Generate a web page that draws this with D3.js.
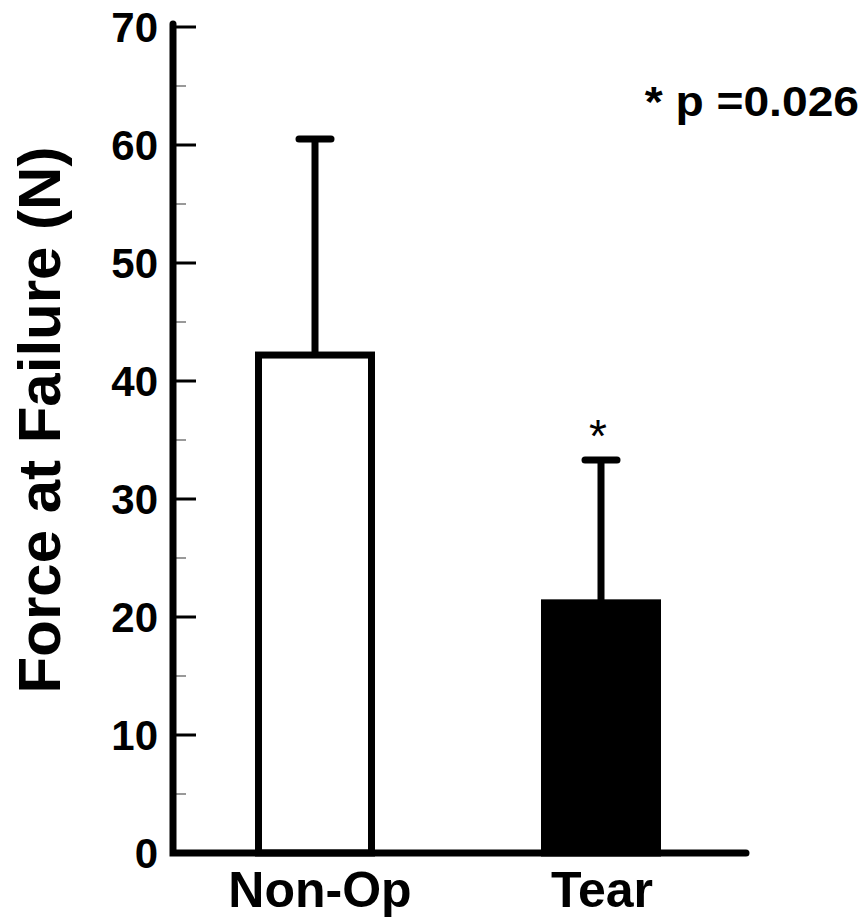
<!DOCTYPE html>
<html><head><meta charset="utf-8">
<script src="https://cdn.jsdelivr.net/npm/d3@7"></script>
<style>body{margin:0;background:#fff}</style>
</head><body>
<svg id="c" width="866" height="918"></svg>
<script>
const categories = ["Non-Op", "Tear"];
const means = [42.2, 21.2];
const sds = [18.3, 12.1];
const fills = ["#ffffff", "#000000"];
const yTicks = [0, 10, 20, 30, 40, 50, 60, 70];
const minorTicks = [5, 15, 25, 35, 45, 55, 65];
const sigMarks = ["", "*"];

const svg = d3.select("#c");
const font = "Liberation Sans, Arial, Helvetica, sans-serif";
const x = d3.scalePoint().domain(categories).range([315, 601]);
const y = d3.scaleLinear().domain([0, 70]).range([853, 27]);
const bw = 113;

svg.selectAll(".minor").data(minorTicks).join("line")
  .attr("x1", 176).attr("x2", 186).attr("y1", d => y(d)).attr("y2", d => y(d))
  .attr("stroke", "#777").attr("stroke-width", 1.5);
svg.selectAll(".major").data(yTicks).join("line")
  .attr("x1", 173).attr("x2", 196).attr("y1", d => y(d)).attr("y2", d => y(d))
  .attr("stroke", "#000").attr("stroke-width", 3);
svg.selectAll(".tl").data(yTicks).join("text")
  .attr("x", 158).attr("y", d => y(d) + 15).attr("text-anchor", "end")
  .attr("font-family", font).attr("font-weight", "bold").attr("font-size", 42)
  .text(d => d);

categories.forEach((c, i) => {
  const xc = x(c);
  svg.append("line").attr("x1", xc).attr("x2", xc).attr("y1", y(means[i])).attr("y2", y(means[i] + sds[i]))
    .attr("stroke", "#000").attr("stroke-width", 7);
  svg.append("line").attr("x1", xc - 16).attr("x2", xc + 16).attr("y1", y(means[i] + sds[i])).attr("y2", y(means[i] + sds[i]))
    .attr("stroke", "#000").attr("stroke-width", 7).attr("stroke-linecap", "round");
  svg.append("rect").attr("x", xc - bw / 2).attr("width", bw)
    .attr("y", y(means[i])).attr("height", y(0) - y(means[i]))
    .attr("fill", fills[i]).attr("stroke", "#000").attr("stroke-width", 7);
  if (sigMarks[i]) {
    svg.append("text").attr("x", xc - 3).attr("y", y(means[i] + sds[i]) - 8).attr("text-anchor", "middle")
      .attr("font-family", font).attr("font-size", 46).text(sigMarks[i]);
  }
  svg.append("text").attr("x", xc + (i === 0 ? 5 : 1)).attr("y", 907).attr("text-anchor", "middle")
    .attr("font-family", font).attr("font-weight", "bold").attr("font-size", 50).text(c);
});

svg.append("path").attr("d", `M173,24 V853 H746`).attr("fill", "none")
  .attr("stroke", "#000").attr("stroke-width", 7).attr("stroke-linecap", "round").attr("stroke-linejoin", "miter");

svg.append("text").attr("transform", `translate(60,420) rotate(-90)`).attr("text-anchor", "middle")
  .attr("font-family", font).attr("font-weight", "bold").attr("font-size", 60).text("Force at Failure (N)");

svg.append("text").attr("transform", `translate(859,116) scale(1.1,1)`).attr("text-anchor", "end")
  .attr("font-family", font).attr("font-weight", "bold").attr("font-size", 42).text("* p =0.026");
</script>
</body></html>
